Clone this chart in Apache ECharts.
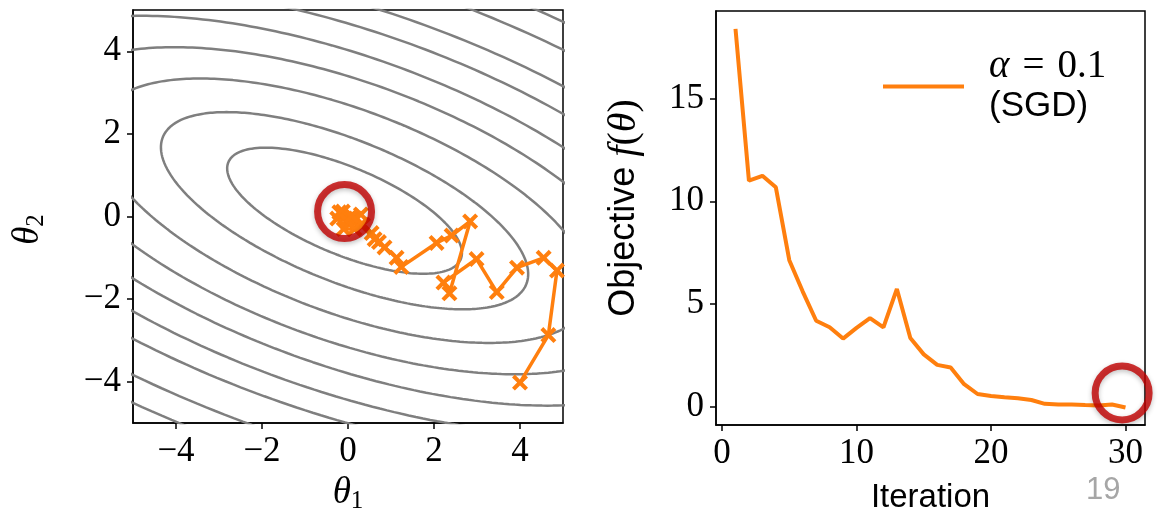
<!DOCTYPE html>
<html>
<head>
<meta charset="utf-8">
<script src="https://cdn.jsdelivr.net/npm/echarts@6.0.0/dist/echarts.min.js"></script>
<style>
  html, body { margin: 0; padding: 0; background: #fff; }
  #chart { width: 1165px; height: 519px; }
</style>
</head>
<body>
<div id="chart"></div>
<script>
// contour ellipses (t - c)^T [[1, b], [b, d]] (t - c) = level, b read per level
const bowlCenter = [-0.08, 0.14]
const bowlD = 3.2
const contourLevels = [4.1, 10.7, 21.5, 34.5, 49, 66.5, 84, 112, 137]
const contourTilt = [1.2, 1.15, 1.05, 1.0, 1.0, 0.97, 0.95, 0.95, 0.95]

// SGD iterates (theta1, theta2)
const sgdTheta1 = [4.00, 4.66, 4.86, 4.55, 3.93, 3.46, 2.99, 2.22, 2.36, 2.84, 2.41, 2.06, 1.24, 1.13,
  0.72, 0.55, 0.85, 0.62, 0.30, 0.05, -0.20, 0.15, -0.10, 0.30, -0.25, 0.35, 0.00, -0.12, 0.18, -0.02, 0.08]
const sgdTheta2 = [-4.02, -2.87, -1.31, -1.00, -1.24, -1.83, -1.03, -1.60, -1.86, -0.12, -0.46, -0.64, -1.22, -1.00,
  -0.62, -0.40, -0.75, -0.55, -0.20, -0.05, 0.10, -0.30, -0.30, 0.05, -0.05, -0.20, -0.15, 0.12, -0.05, -0.10, 0.02]

const iterations = Array.from({ length: 30 }, (_, i) => i + 1)
const objective = [18.4, 11.0, 11.24, 10.68, 7.13, 5.6, 4.18, 3.86, 3.31, 3.83, 4.31, 3.86, 5.73, 3.34, 2.54,
  2.03, 1.9, 1.09, 0.61, 0.51, 0.45, 0.40, 0.32, 0.13, 0.10, 0.10, 0.07, 0.05, 0.10, -0.05]

const thetaTicks = [-4, -2, 0, 2, 4]
const iterTicks = [0, 10, 20, 30]
const objTicks = [0, 5, 10, 15]

// red highlight rings
const ringTheta = [[-0.08, 0.12]]
const ringIter = [[29.75, 0.66]]

const serif = 'Liberation Serif'
const sans = 'Liberation Sans'
const orange = '#ff7f0e'
const minus = v => String(v).replace('-', '\u2212')

function ellipse (k, b) {
  const s = Math.sqrt(bowlD - b * b)
  const r = Math.sqrt(k)
  const pts = []
  for (let i = 0; i <= 360; i++) {
    const t = i / 360 * 2 * Math.PI
    pts.push([
      bowlCenter[0] + r * (Math.cos(t) - b * Math.sin(t) / s),
      bowlCenter[1] + r * Math.sin(t) / s
    ])
  }
  return pts
}

const crossSymbol = 'path://M1.8,0L5,3.2L8.2,0L10,1.8L6.8,5L10,8.2L8.2,10L5,6.8L1.8,10L0,8.2L3.2,5L0,1.8Z'

const axisLine = { show: true, onZero: false, lineStyle: { color: '#000', width: 1.5 } }
const tickStyle = { length: 6, lineStyle: { color: '#000', width: 1.5 } }
const labelStyle = { fontFamily: serif, fontSize: 35, color: '#000' }

const contourSeries = contourLevels.map((k, i) => ({
  type: 'line',
  xAxisIndex: 0,
  yAxisIndex: 0,
  data: ellipse(k, contourTilt[i]),
  showSymbol: false,
  silent: true,
  clip: true,
  lineStyle: { color: '#7f7f7f', width: 2.5 },
  z: 1
}))

const ringStyle = {
  color: 'rgba(0,0,0,0)',
  borderColor: '#c00000',
  borderWidth: 7,
  shadowBlur: 5,
  shadowColor: 'rgba(0,0,0,0.3)',
  shadowOffsetY: 2
}

const option = {
  animation: false,
  grid: [
    { left: 133, top: 10, width: 430, height: 418, show: true, borderColor: '#000', borderWidth: 1.5 },
    { left: 716, top: 11, width: 429, height: 417, show: true, borderColor: '#000', borderWidth: 1.5 }
  ],
  xAxis: [
    {
      gridIndex: 0,
      type: 'value',
      min: -5,
      max: 5,
      axisLine,
      splitLine: { show: false },
      axisTick: { customValues: thetaTicks, ...tickStyle },
      axisLabel: { customValues: thetaTicks, formatter: minus, margin: 11, ...labelStyle },
      name: '{t|θ}{s|1}',
      nameLocation: 'middle',
      nameGap: 50,
      nameTextStyle: {
        rich: {
          t: { fontFamily: serif, fontStyle: 'italic', fontSize: 37, color: '#000' },
          s: { fontFamily: serif, fontSize: 25, color: '#000', padding: [16, 0, 0, 0] }
        }
      }
    },
    {
      gridIndex: 1,
      type: 'value',
      min: -0.45,
      max: 31.45,
      axisLine,
      splitLine: { show: false },
      axisTick: { customValues: iterTicks, ...tickStyle },
      axisLabel: { customValues: iterTicks, margin: 11, ...labelStyle },
      name: 'Iteration',
      nameLocation: 'middle',
      nameGap: 56,
      nameTextStyle: { fontFamily: sans, fontSize: 33, color: '#000' }
    }
  ],
  yAxis: [
    {
      gridIndex: 0,
      type: 'value',
      min: -5,
      max: 5,
      axisLine,
      splitLine: { show: false },
      axisTick: { customValues: thetaTicks, ...tickStyle },
      axisLabel: { customValues: thetaTicks, formatter: minus, margin: 12, ...labelStyle },
      name: '{t|θ}{s|2}',
      nameLocation: 'middle',
      nameGap: 84,
      nameRotate: 90,
      nameTextStyle: {
        padding: [0, 26, 0, 0],
        rich: {
          t: { fontFamily: serif, fontStyle: 'italic', fontSize: 37, color: '#000' },
          s: { fontFamily: serif, fontSize: 25, color: '#000', padding: [16, 0, 0, 0] }
        }
      }
    },
    {
      gridIndex: 1,
      type: 'value',
      min: -0.9,
      max: 19.27,
      axisLine,
      splitLine: { show: false },
      axisTick: { customValues: objTicks, ...tickStyle },
      axisLabel: { customValues: objTicks, margin: 12, ...labelStyle },
      name: '{o|Objective }{m|f}{p|(}{m|θ}{p|)}',
      nameLocation: 'middle',
      nameGap: 72,
      nameRotate: 90,
      nameTextStyle: {
        padding: [0, 0, 0, 20],
        rich: {
          o: { fontFamily: sans, fontSize: 36, color: '#000' },
          m: { fontFamily: serif, fontStyle: 'italic', fontSize: 40, color: '#000' },
          p: { fontFamily: serif, fontSize: 40, color: '#000' }
        }
      }
    }
  ],
  legend: {
    data: ['SGD'],
    left: 878,
    top: 42,
    icon: 'rect',
    itemWidth: 81,
    itemHeight: 4,
    formatter: () => '{a|α}{b|\u2004=\u20040.1}\n{c|(SGD)}',
    textStyle: {
      padding: [0, 0, 0, 20],
      rich: {
        a: { fontFamily: serif, fontStyle: 'italic', fontSize: 39, color: '#000', lineHeight: 40 },
        b: { fontFamily: serif, fontSize: 39, color: '#000', lineHeight: 40 },
        c: { fontFamily: sans, fontSize: 35, color: '#000', lineHeight: 40 }
      }
    }
  },
  graphic: [
    {
      type: 'text',
      left: 1086,
      top: 475,
      style: { text: '19', fontFamily: sans, fontSize: 31, fill: '#a6a6a6' }
    }
  ],
  series: [
    ...contourSeries,
    {
      type: 'line',
      xAxisIndex: 0,
      yAxisIndex: 0,
      data: sgdTheta1.map((x, i) => [x, sgdTheta2[i]]),
      symbol: crossSymbol,
      symbolSize: 16,
      showSymbol: true,
      lineStyle: { color: orange, width: 3.5 },
      itemStyle: { color: orange },
      z: 3
    },
    {
      type: 'scatter',
      xAxisIndex: 0,
      yAxisIndex: 0,
      data: ringTheta,
      symbol: 'circle',
      symbolSize: 54,
      itemStyle: ringStyle,
      silent: true,
      z: 5
    },
    {
      name: 'SGD',
      type: 'line',
      xAxisIndex: 1,
      yAxisIndex: 1,
      data: iterations.map((x, i) => [x, objective[i]]),
      showSymbol: false,
      lineStyle: { color: orange, width: 4 },
      itemStyle: { color: orange },
      z: 3
    },
    {
      type: 'scatter',
      xAxisIndex: 1,
      yAxisIndex: 1,
      data: ringIter,
      symbol: 'circle',
      symbolSize: 54,
      itemStyle: ringStyle,
      silent: true,
      z: 5
    }
  ]
}

const chart = echarts.init(document.getElementById('chart'))
chart.setOption(option)
</script>
</body>
</html>
